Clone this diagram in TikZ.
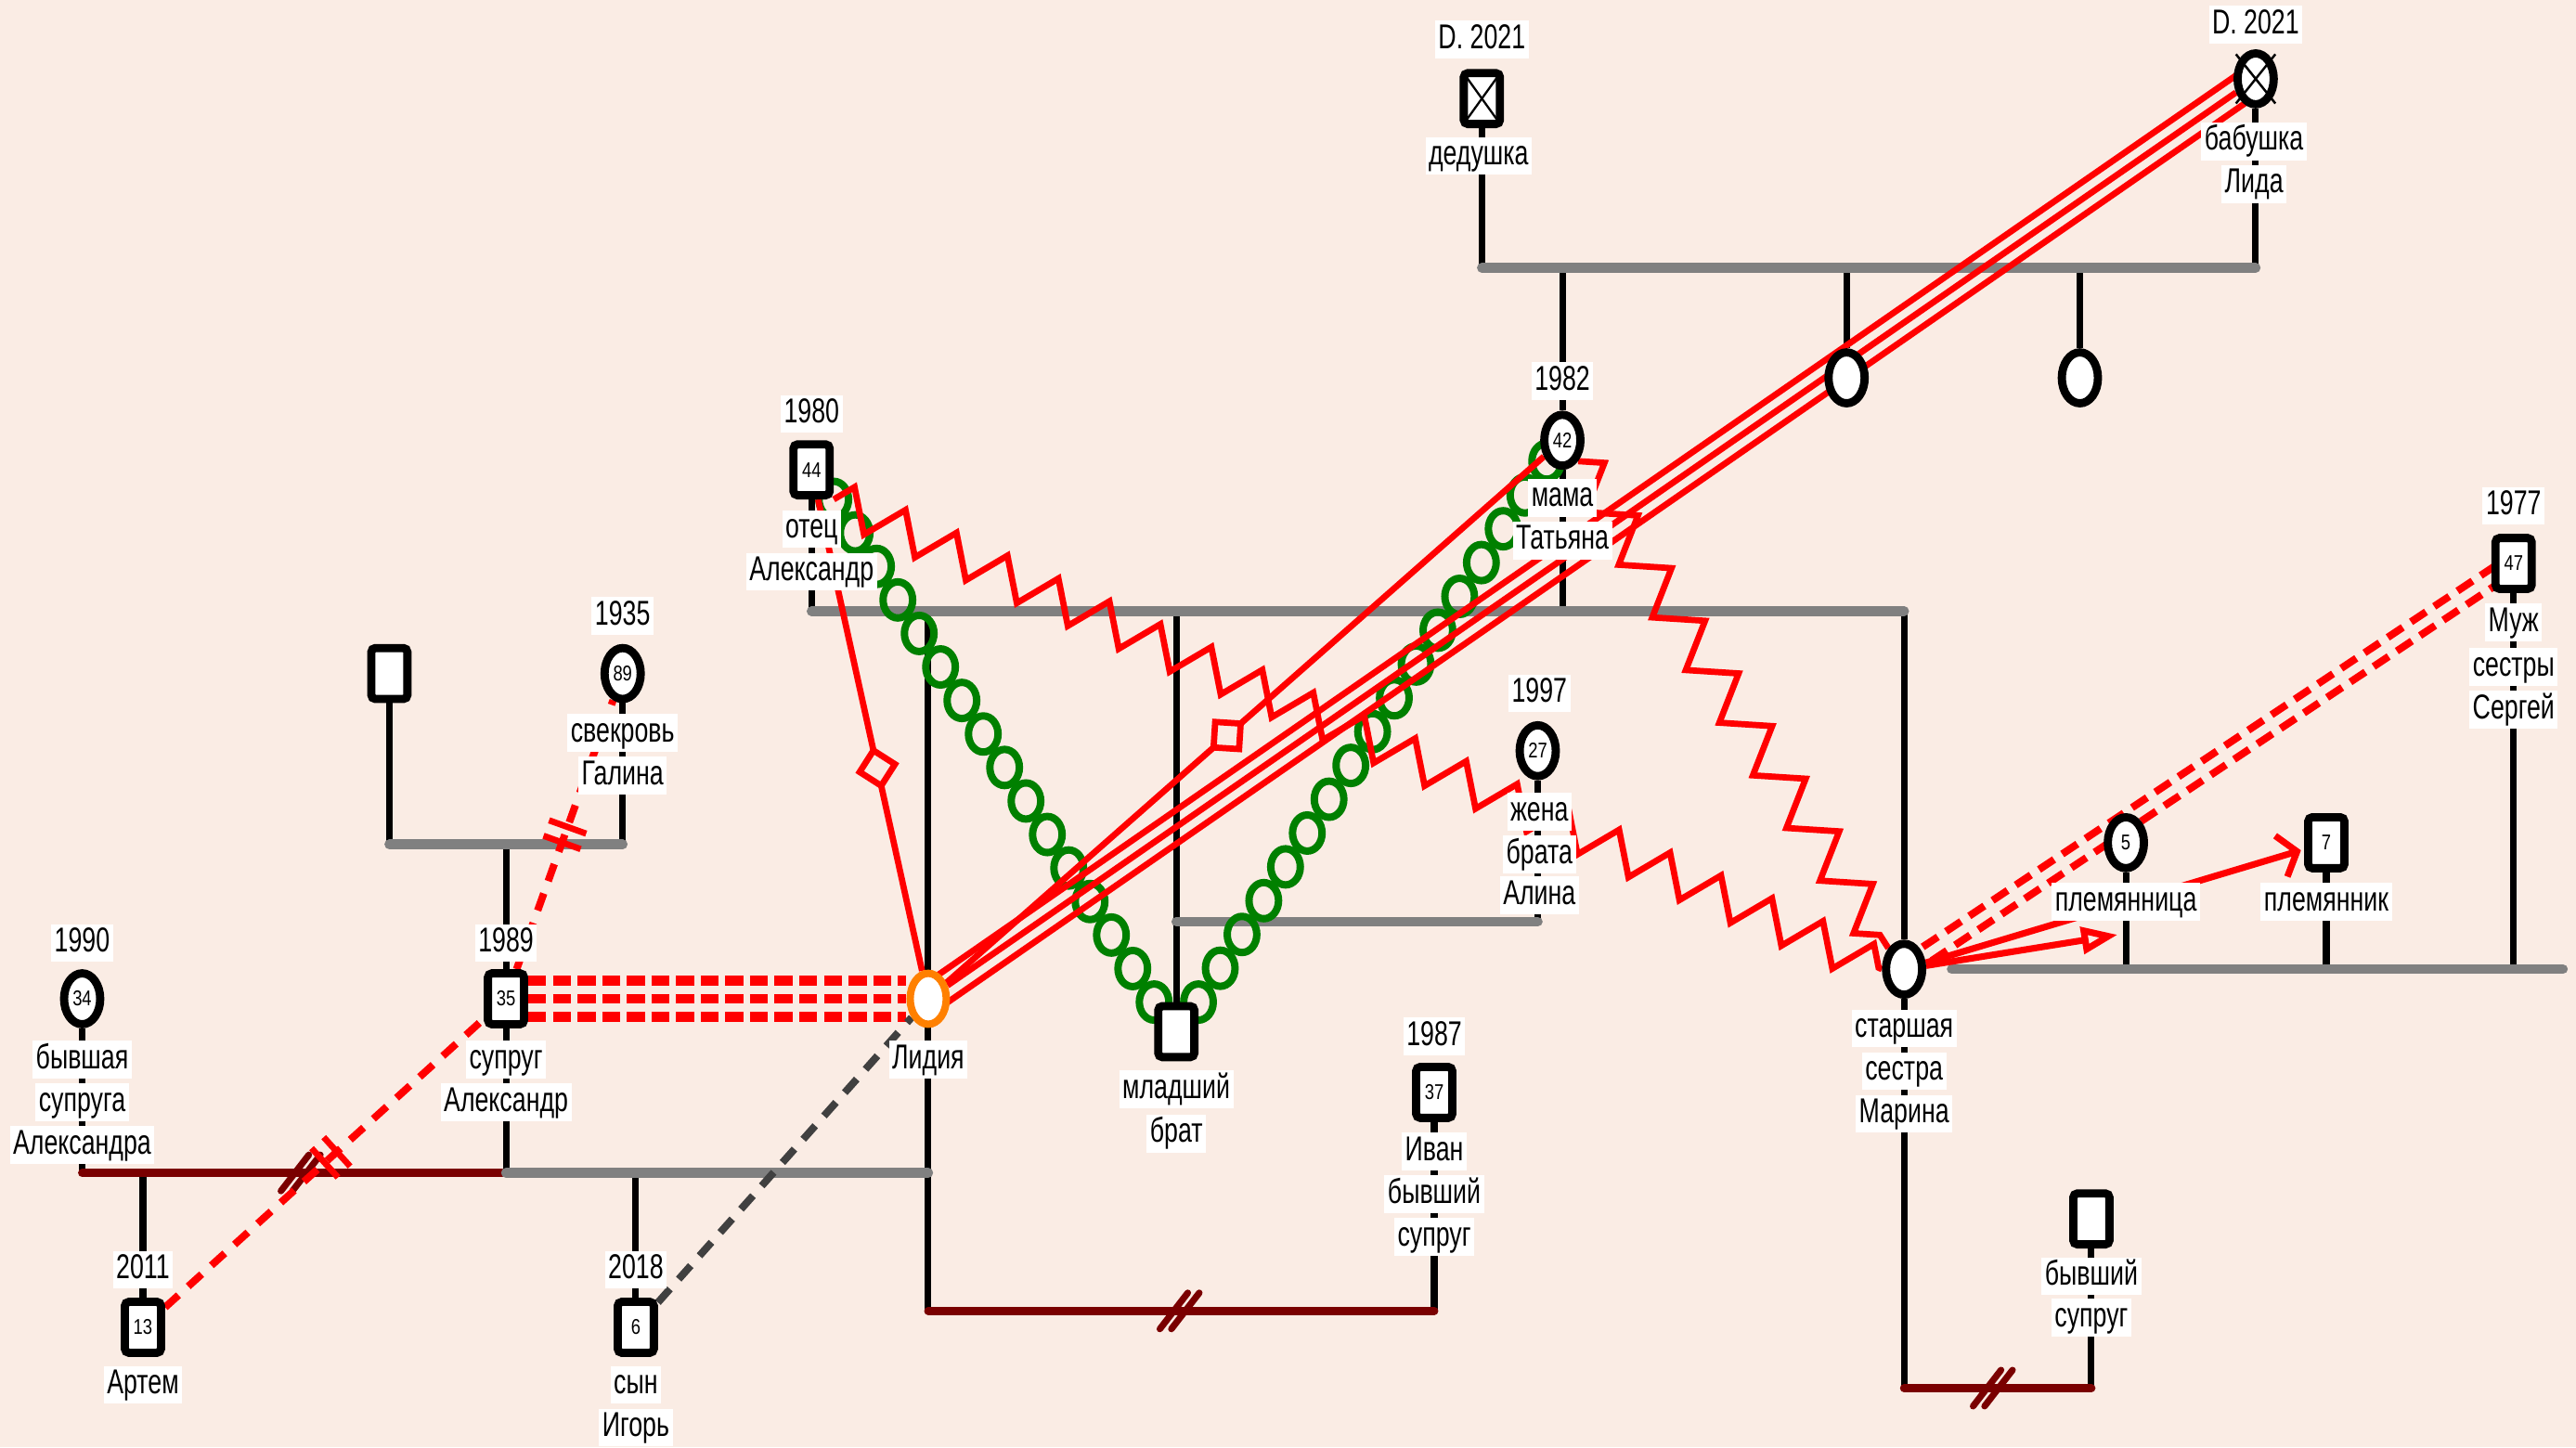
\documentclass[tikz,border=0pt]{standalone}
\usepackage{fontspec}
\newfontfamily\lblfont{Liberation Sans}[FakeStretch=0.72]
\newfontfamily\agefont{Liberation Sans}[FakeStretch=0.8]
\usetikzlibrary{shapes.geometric,arrows.meta,calc,decorations.pathmorphing,decorations.markings}
\pgfdeclarelayer{lines}
\pgfsetlayers{lines,main}

\definecolor{paper}{RGB}{250,236,228}
\definecolor{kin}{RGB}{128,128,128}
\definecolor{cutred}{RGB}{122,0,0}
\definecolor{conflict}{RGB}{255,0,0}
\definecolor{bond}{RGB}{0,128,0}
\definecolor{focus}{RGB}{255,128,0}
\definecolor{darkdash}{RGB}{64,64,64}

\tikzset{
  person/.style={draw=black, line width=5pt, fill=white, inner sep=0pt,
    minimum width=22pt, minimum height=31pt,
    font=\agefont\fontsize{13pt}{14pt}\selectfont},
  male/.style={person, rectangle, rounded corners=2.5pt},
  female/.style={person, ellipse},
  lab/.style={fill=white, inner xsep=2pt, inner ysep=1.5pt,
    text height=15.5pt, text depth=4.5pt,
    font=\lblfont\fontsize{21pt}{24pt}\selectfont},
  kinline/.style={kin, line width=6pt, line cap=round},
  descent/.style={black, line width=4pt},
  cutline/.style={cutred, line width=5pt, line cap=round},
  fusedline/.style={conflict, line width=3.8pt},
  hostile/.style={conflict, line width=3.8pt, decorate,
    decoration={zigzag, segment length=#1, amplitude=12pt}},
  hostile/.default=34pt,
  dashedrel/.style={conflict, line width=4.5pt, dash pattern=on 11pt off 8pt},
  tripledash/.style={conflict, line width=6pt, dash pattern=on 11pt off 4pt},
  graydash/.style={darkdash, line width=4.5pt, dash pattern=on 11pt off 8pt},
  ring/.style={bond, line width=4.5pt},
  withdiamond/.style={postaction={decorate, decoration={markings,
    mark=at position #1 with {\draw[conflict, line width=3.8pt, fill=paper, solid]
      (-11pt,0pt) -- (0pt,11pt) -- (11pt,0pt) -- (0pt,-11pt) -- cycle;}}}},
  cutmark/.style={postaction={decorate, decoration={markings,
    mark=at position #1 with {\draw[conflict, line width=3.8pt, solid]
      (-5pt,-12pt) -- (-5pt,12pt) (5pt,-12pt) -- (5pt,12pt);}}}},
  divorce/.pic={\draw[cutred, line width=4pt, line cap=round]
      (-12pt,-11pt) -- (5pt,11pt) (-5pt,-11pt) -- (12pt,11pt);}
}

\begin{document}
\begin{tikzpicture}[x=1pt, y=-1pt]
\useasboundingbox (0,0) rectangle (1568,881);

% ---------- people ----------
\node[male]   (ded)     at (902,60)   {};
\node[female] (bab)     at (1373,48)  {};
\node[female] (aunt1)   at (1124,230) {};
\node[female] (aunt2)   at (1266,230) {};
\node[male]   (otec)    at (494,286)  {44};
\node[female] (mama)    at (951,268)  {42};
\node[female, draw=focus, line width=4.5pt] (L) at (565,608) {};
\node[male]   (brat)    at (716,628)  {};
\node[female] (zhena)   at (936,457)  {27};
\node[female] (marina)  at (1159,590) {};
\node[male]   (exm)     at (1273,742) {};
\node[male]   (serg)    at (1530,343) {47};
\node[female] (niece)   at (1294,513) {5};
\node[male]   (nephew)  at (1416,513) {7};
\node[male]   (suprug)  at (308,608)  {35};
\node[male]   (svekor)  at (237,410)  {};
\node[female] (svekrov) at (379,410)  {89};
\node[female] (exw)     at (50,608)   {34};
\node[male]   (artem)   at (87,808)   {13};
\node[male]   (igor)    at (387,808)  {6};
\node[male]   (ivan)    at (873,665)  {37};

% deceased marks
\draw[line width=1.3pt] ([xshift=2pt,yshift=-2pt]ded.north west) -- ([xshift=-2pt,yshift=2pt]ded.south east)
  ([xshift=-2pt,yshift=-2pt]ded.north east) -- ([xshift=2pt,yshift=2pt]ded.south west);
\draw[line width=1.4pt] ([shift={(-12pt,15pt)}]bab.center) -- ([shift={(12pt,-15pt)}]bab.center)
  ([shift={(12pt,15pt)}]bab.center) -- ([shift={(-12pt,-15pt)}]bab.center);

% ---------- labels ----------
\node[lab] (t-ded0) at (902,24) {D. 2021};
\node[lab] (t-ded1) at (900,95) {дедушка};
\node[lab] (t-bab0) at (1373,15) {D. 2021};
\node[lab] (t-bab1) at (1372,86) {бабушка};
\node[lab] (t-bab2) at (1372,112) {Лида};
\node[lab] (t-otec0) at (494,252) {1980};
\node[lab] (t-otec1) at (494,322) {отец};
\node[lab] (t-otec2) at (494,348) {Александр};
\node[lab] (t-mama0) at (951,232) {1982};
\node[lab] (t-mama1) at (951,303) {мама};
\node[lab] (t-mama2) at (951,329) {Татьяна};
\node[lab] (t-lid) at (565,645) {Лидия};
\node[lab] (t-brat1) at (716,663) {младший};
\node[lab] (t-brat2) at (716,690) {брат};
\node[lab] (t-zh0) at (937,422) {1997};
\node[lab] (t-zh1) at (937,494) {жена};
\node[lab] (t-zh2) at (937,520) {брата};
\node[lab] (t-zh3) at (937,545) {Алина};
\node[lab] (t-mar1) at (1159,626) {старшая};
\node[lab] (t-mar2) at (1159,652) {сестра};
\node[lab] (t-mar3) at (1159,678) {Марина};
\node[lab] (t-exm1) at (1273,777) {бывший};
\node[lab] (t-exm2) at (1273,802) {супруг};
\node[lab] (t-ser0) at (1530,308) {1977};
\node[lab] (t-ser1) at (1530,379) {Муж};
\node[lab] (t-ser2) at (1530,406) {сестры};
\node[lab] (t-ser3) at (1530,432) {Сергей};
\node[lab] (t-niece) at (1294,549) {племянница};
\node[lab] (t-nephew) at (1416,549) {племянник};
\node[lab] (t-sup0) at (308,574) {1989};
\node[lab] (t-sup1) at (308,645) {супруг};
\node[lab] (t-sup2) at (308,671) {Александр};
\node[lab] (t-sv0) at (379,375) {1935};
\node[lab] (t-sv1) at (379,446) {свекровь};
\node[lab] (t-sv2) at (379,472) {Галина};
\node[lab] (t-exw0) at (50,574) {1990};
\node[lab] (t-exw1) at (50,645) {бывшая};
\node[lab] (t-exw2) at (50,671) {супруга};
\node[lab] (t-exw3) at (50,697) {Александра};
\node[lab] (t-art0) at (87,773) {2011};
\node[lab] (t-art1) at (87,843) {Артем};
\node[lab] (t-ig0) at (387,773) {2018};
\node[lab] (t-ig1) at (387,843) {сын};
\node[lab] (t-ig2) at (387,869) {Игорь};
\node[lab] (t-iv0) at (873,631) {1987};
\node[lab] (t-iv1) at (873,701) {Иван};
\node[lab] (t-iv2) at (873,727) {бывший};
\node[lab] (t-iv3) at (873,753) {супруг};

% ---------- junction points of family lines ----------
\coordinate (gp-w) at (902,163);  \coordinate (gp-e) at (1373,163);
\coordinate (par-w) at (494,372); \coordinate (par-e) at (1159,372);
\coordinate (bz-w) at (716,561);  \coordinate (bz-e) at (936,561);
\coordinate (ms-w) at (1188,590); \coordinate (ms-e) at (1560,590);
\coordinate (sp-w) at (237,514);  \coordinate (sp-e) at (379,514);
\coordinate (m1-w) at (50,714);   \coordinate (m1-c) at (308,714); \coordinate (m1-e) at (565,714);
\coordinate (m3-w) at (565,798);  \coordinate (m3-e) at (873,798);
\coordinate (m4-w) at (1159,845); \coordinate (m4-e) at (1273,845);
\coordinate (niece-arrow) at (1289,569);

\begin{pgfonlayer}{lines}
\fill[paper] (0,0) rectangle (1568,881);

% grandparents and their children
\draw[descent] (ded) -- (gp-w) (bab) -- (gp-e);
\draw[descent] (mama |- gp-w) -- (mama) (aunt1 |- gp-w) -- (aunt1) (aunt2 |- gp-w) -- (aunt2);
\draw[kinline] (gp-w) -- (gp-e);

% parents and their children
\draw[descent] (otec) -- (par-w) (mama) -- (mama |- par-w);
\draw[descent] (L |- par-w) -- (L) (brat |- par-w) -- (brat) (par-e) -- (marina);
\draw[kinline] (par-w) -- (par-e);

% brother and his wife
\draw[descent] (zhena) -- (bz-e);
\draw[kinline] (bz-w) -- (bz-e);

% sister, her husband and children
\draw[descent] (serg) -- (serg |- ms-e) (niece) -- (niece |- ms-e) (nephew) -- (nephew |- ms-e);
\draw[kinline] (ms-w) -- (ms-e);
\draw[descent] (marina) -- (m4-w) (exm) -- (m4-e);
\draw[cutline] (m4-w) -- (m4-e);

% husband's parents
\draw[descent] (svekor) -- (sp-w) (svekrov) -- (sp-e) (suprug |- sp-w) -- (suprug);
\draw[kinline] (sp-w) -- (sp-e);

% husband's marriages and sons
\draw[descent] (exw) -- (m1-w) (suprug) -- (m1-c) (L) -- (m3-w);
\draw[descent] (artem |- m1-c) -- (artem) (igor |- m1-c) -- (igor);
\draw[cutline] (m1-w) -- (m1-c);
\draw[kinline] (m1-c) -- (m1-e);

% first marriage of Lidia
\draw[descent] (ivan) -- (m3-e);
\draw[cutline] (m3-w) -- (m3-e);

\pic at (183,714) {divorce};
\pic at (718,798) {divorce};
\pic at (1213,845) {divorce};

% ---------- emotional relationships ----------
% close bond (green rings)
\foreach \k in {0,...,15}
  \draw[ring] ($(otec.south east)!\k/15!(brat.north west)$) ellipse [x radius=9pt, y radius=11pt];
\foreach \k in {0,...,16}
  \draw[ring] ($(brat.north east)!\k/16!(mama.south west)$) ellipse [x radius=9pt, y radius=11pt];

% hostility
\draw[hostile] (otec.south east) -- (marina.west);
\draw[hostile=38pt, decoration={amplitude=13pt}] (mama.south east) -- (marina.north west);

% fused lines to grandmother
\draw[fusedline] ($(L)!8.5pt!90:(bab)$) -- ($(bab)!8.5pt!-90:(L)$);
\draw[fusedline] (L) -- (bab);
\draw[fusedline] ($(L)!8.5pt!-90:(bab)$) -- ($(bab)!8.5pt!90:(L)$);

% lines with diamonds
\draw[fusedline, withdiamond=0.47] (L) -- (mama);
\draw[fusedline, withdiamond=0.57] (otec) -- (L);

% husband and Lidia
\foreach \s in {-11,0,11}
  \draw[tripledash] ([yshift=\s pt]suprug.east) -- ([yshift=\s pt]L.west);

% cut-off relations of the husband
\draw[dashedrel, cutmark=0.52] (artem) -- (suprug);
\draw[dashedrel, cutmark=0.5] (suprug) -- (svekrov);

% son and Lidia
\draw[graydash] (igor) -- (L);

% sister and her husband
\draw[dashedrel, dash pattern=on 11pt off 6pt] ($(marina)!5pt!90:(serg)$) -- ($(serg)!5pt!-90:(marina)$);
\draw[dashedrel, dash pattern=on 11pt off 6pt] ($(marina)!5pt!-90:(serg)$) -- ($(serg)!5pt!90:(marina)$);

% sister and her children
\draw[conflict, line width=4pt, -{Straight Barb[length=10pt, width=26pt]}, shorten >=2pt] (marina) -- (nephew);
\draw[conflict, line width=4pt, -{Triangle[open, length=22pt, width=16pt]}] (marina) -- (niece-arrow);
\end{pgfonlayer}
\end{tikzpicture}
\end{document}
